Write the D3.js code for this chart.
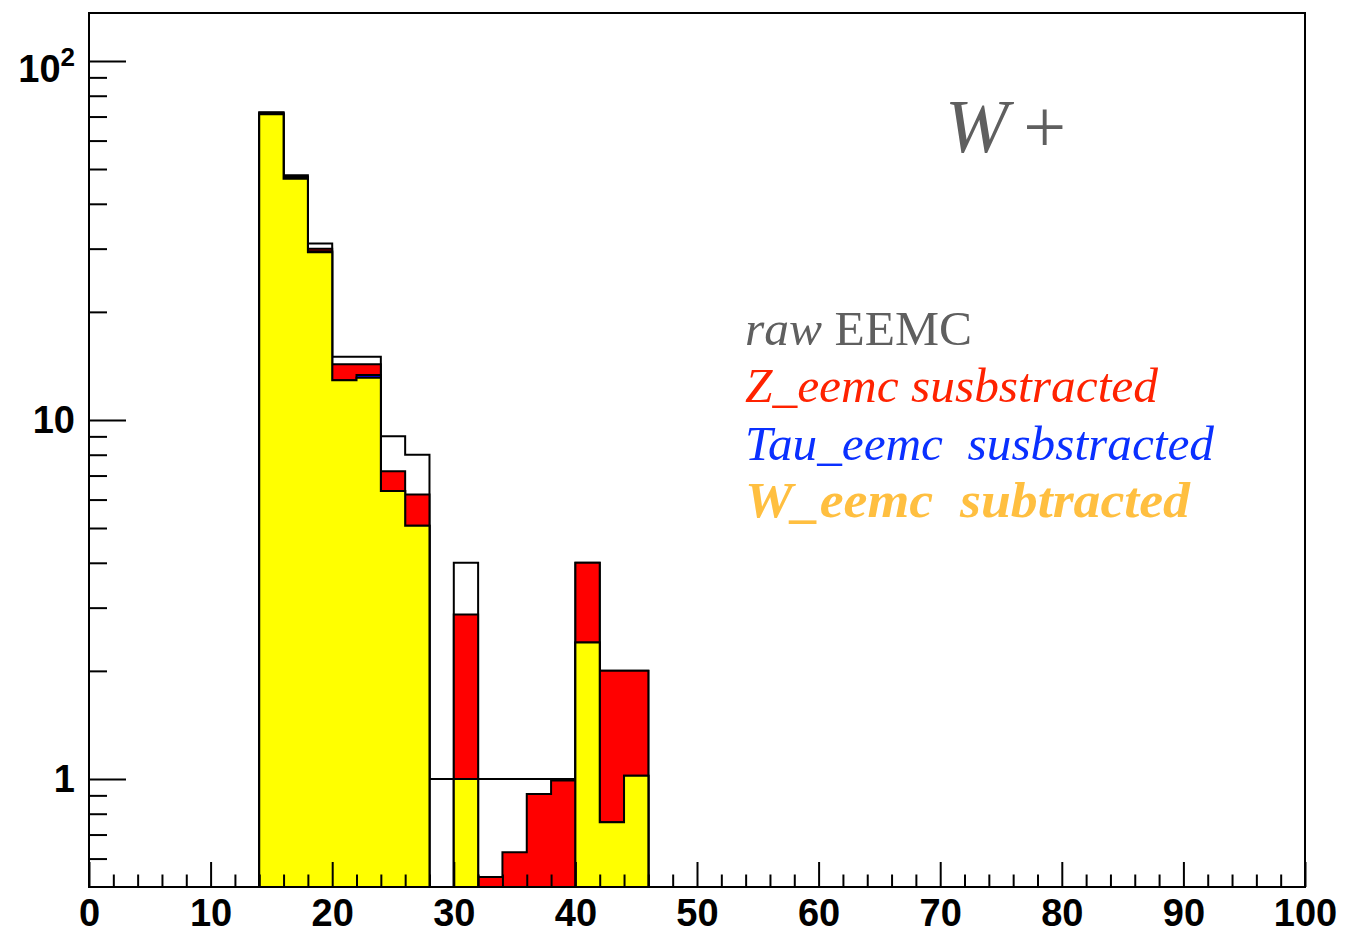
<!DOCTYPE html>
<html>
<head>
<meta charset="utf-8">
<script src="https://cdn.jsdelivr.net/npm/d3@7"></script>
<style>
  body { margin: 0; background: #fff; }
  svg { display: block; }
  .tick text { font-family: "Liberation Sans", Arial, sans-serif; font-weight: bold; font-size: 38px; fill: #000; }
</style>
</head>
<body>
<script>
// bin edges (GeV), 2 GeV bins
const binEdges = [14, 16, 18, 20, 22, 24, 26, 28, 30, 32, 34, 36, 38, 40, 42, 44, 46];

// counts per bin
const rawEemc  = [72, 48, 31, 15, 15, 9, 8, 1, 4, 1, 1, 1, 1, 4, 2, 2];
const zSub     = [71.7, 47.6, 30, 14.3, 14.3, 7.2, 6.2, 0, 2.87, 0.533, 0.625, 0.908, 0.99, 4, 2, 2];
const tauSub   = [71.4, 47.3, 29.5, 12.9, 13.35, 6.34, 5.07, 0, 1.0, 0, 0, 0, 0, 2.4, 0.758, 1.02];
const wSub     = [71, 47, 29.3, 12.9, 13.1, 6.34, 5.07, 0, 1.0, 0, 0, 0, 0, 2.4, 0.758, 1.02];

// axis ticks
const xMajor = [0, 10, 20, 30, 40, 50, 60, 70, 80, 90, 100];
const xMinor = [2, 4, 6, 8, 12, 14, 16, 18, 22, 24, 26, 28, 32, 34, 36, 38, 42, 44, 46, 48,
                52, 54, 56, 58, 62, 64, 66, 68, 72, 74, 76, 78, 82, 84, 86, 88, 92, 94, 96, 98];
const yMajor = [1, 10, 100];
const yMinor = [0.6, 0.7, 0.8, 0.9, 2, 3, 4, 5, 6, 7, 8, 9, 20, 30, 40, 50, 60, 70, 80, 90];

const W = 1348, H = 934;
const padL = 89, padR = 1305, padT = 13, padB = 887;
const yMin = 0.5, yMax = 136;

const svg = d3.select("body").append("svg")
  .attr("width", W)
  .attr("height", H);

const x = d3.scaleLinear().domain([0, 100]).range([padL, padR]);
const y = d3.scaleLog().domain([yMin, yMax]).range([padB, padT]);

svg.append("clipPath").attr("id", "frame")
  .append("rect")
  .attr("x", padL).attr("y", padT)
  .attr("width", padR - padL).attr("height", padB - padT);

// step outline of a histogram, zero bins go down to the axis
function histPath(vals) {
  const pts = [[binEdges[0], yMin]];
  vals.forEach(function (v, i) {
    const vv = Math.max(v, yMin);
    pts.push([binEdges[i], vv]);
    pts.push([binEdges[i + 1], vv]);
  });
  pts.push([binEdges[binEdges.length - 1], yMin]);
  return d3.line().x(d => x(d[0])).y(d => y(d[1]))(pts);
}

const hists = [
  { vals: rawEemc, fill: "#ffffff" },
  { vals: zSub,    fill: "#ff0000" },
  { vals: tauSub,  fill: "#0000ff" },
  { vals: wSub,    fill: "#ffff00" }
];

svg.append("g").attr("clip-path", "url(#frame)")
  .selectAll("path")
  .data(hists)
  .enter()
  .append("path")
  .attr("d", d => histPath(d.vals))
  .attr("fill", d => d.fill)
  .attr("stroke", "#000")
  .attr("stroke-width", 2)
  .attr("stroke-linejoin", "miter");

// frame
svg.append("rect")
  .attr("x", padL).attr("y", padT)
  .attr("width", padR - padL).attr("height", padB - padT)
  .attr("fill", "none")
  .attr("stroke", "#000")
  .attr("stroke-width", 2);

// x axis
svg.append("g")
  .attr("transform", "translate(0," + padB + ")")
  .call(d3.axisBottom(x).tickValues(xMajor).tickSize(-25).tickPadding(12).tickFormat(d3.format("d")))
  .call(g => g.select(".domain").remove())
  .call(g => g.selectAll(".tick line").attr("stroke-width", 2));

svg.append("g")
  .attr("transform", "translate(0," + padB + ")")
  .call(d3.axisBottom(x).tickValues(xMinor).tickSize(-12.5).tickFormat(""))
  .call(g => g.select(".domain").remove())
  .call(g => g.selectAll(".tick line").attr("stroke-width", 2));

// y axis
const yAx = svg.append("g")
  .attr("transform", "translate(" + padL + ",0)")
  .call(d3.axisLeft(y).tickValues(yMajor).tickSize(-37).tickPadding(14)
    .tickFormat(d => d === 100 ? "10" : String(d)))
  .call(g => g.select(".domain").remove())
  .call(g => g.selectAll(".tick line").attr("stroke-width", 2));

yAx.selectAll(".tick text")
  .filter(d => d === 100)
  .attr("dy", "0.55em")
  .text("10")
  .append("tspan")
  .attr("dy", "-0.62em")
  .attr("font-size", "26px")
  .text("2");

svg.append("g")
  .attr("transform", "translate(" + padL + ",0)")
  .call(d3.axisLeft(y).tickValues(yMinor).tickSize(-18).tickFormat(""))
  .call(g => g.select(".domain").remove())
  .call(g => g.selectAll(".tick line").attr("stroke-width", 2));

// W+ label
const title = svg.append("text")
  .attr("x", 945).attr("y", 152)
  .attr("fill", "#5f5f5f")
  .attr("font-family", "Liberation Serif, serif")
  .attr("font-size", 76)
  .attr("textLength", 121)
  .attr("lengthAdjust", "spacing");
title.append("tspan").attr("font-style", "italic").text("W");
title.append("tspan").text("+");

// legend texts
const legendLines = [
  { parts: [["raw ", "italic", "normal"], ["EEMC", "normal", "normal"]], color: "#5f5f5f", y: 345, len: 227, size: 48 },
  { parts: [["Z_eemc susbstracted", "italic", "normal"]], color: "#ff2200", y: 402, len: 413, size: 48 },
  { parts: [["Tau_eemc  susbstracted", "italic", "normal"]], color: "#0a30ff", y: 460, len: 469, size: 48 },
  { parts: [["W_eemc  subtracted", "italic", "bold"]], color: "#ffbf40", y: 517, len: 445, size: 50 }
];

legendLines.forEach(function (l) {
  const t = svg.append("text")
    .attr("x", 745).attr("y", l.y)
    .attr("fill", l.color)
    .attr("font-family", "Liberation Serif, serif")
    .attr("font-size", l.size)
    .attr("textLength", l.len)
    .attr("lengthAdjust", "spacingAndGlyphs")
    .style("white-space", "pre");
  l.parts.forEach(function (p) {
    t.append("tspan")
      .attr("font-style", p[1])
      .attr("font-weight", p[2])
      .text(p[0]);
  });
});
</script>
</body>
</html>
